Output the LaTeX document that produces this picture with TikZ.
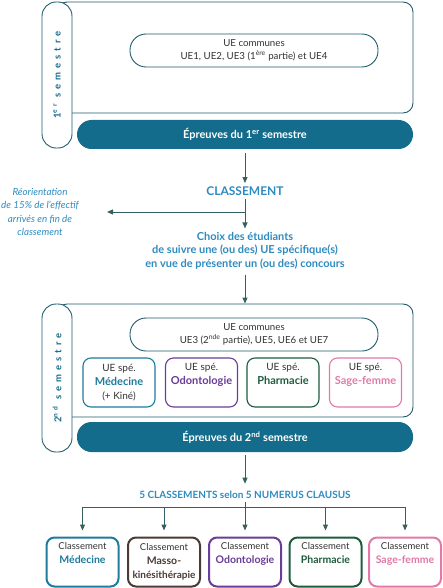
\documentclass[tikz,border=0pt]{standalone}
\usepackage{fontspec}
\setmainfont{Lato}
\newfontfamily\spacedfont[LetterSpace=42]{Lato}
\usetikzlibrary{positioning,arrows.meta}

\definecolor{lineteal}{HTML}{215C6E}
\definecolor{arrteal}{HTML}{34605F}
\definecolor{barteal}{HTML}{146C8C}
\definecolor{txtblue}{HTML}{2E8BC0}
\definecolor{medcol}{HTML}{1E7C9C}
\definecolor{kinecol}{HTML}{4A3B35}
\definecolor{odontocol}{HTML}{6A3D98}
\definecolor{pharmacol}{HTML}{1F5C3E}
\definecolor{sagecol}{HTML}{E17AA8}

\tikzset{
  semframe/.style={draw=lineteal, line width=0.9pt, fill=white, rounded corners=10pt,
    minimum width=356pt, minimum height=#1, inner sep=0pt},
  semtab/.style={draw=lineteal, line width=0.9pt, fill=white, rounded corners=14pt,
    minimum width=30pt, minimum height=#1, inner sep=0pt},
  tablabel/.style={rotate=90, text=barteal, font=\spacedfont\bfseries\fontsize{9.5}{12}\selectfont},
  common/.style={draw=lineteal, line width=0.9pt, fill=white, rounded corners=16pt,
    minimum width=248pt, minimum height=33pt, align=center, inner sep=0pt,
    font=\fontsize{9.7}{12.5}\selectfont, text=black!80},
  exam/.style={fill=barteal, rounded corners=14.5pt, minimum width=336pt, minimum height=#1,
    inner sep=0pt, text=white, font=\bfseries\fontsize{11}{13}\selectfont},
  spebox/.style={draw=#1, line width=1.1pt, fill=white, rounded corners=8pt,
    minimum width=72pt, minimum height=49pt, align=center, inner sep=0pt,
    font=\fontsize{10}{14}\selectfont, text=black!80},
  rankbox/.style={draw=#1, line width=2pt, fill=white, rounded corners=8pt,
    minimum width=72pt, minimum height=49pt, align=center, inner sep=0pt,
    font=\fontsize{9.5}{14}\selectfont, text=black!80},
  bluetext/.style={text=txtblue, align=center, font=\bfseries\fontsize{#1}{13.5}\selectfont},
  arr/.style={draw=arrteal, line width=1pt, -{Triangle[length=6pt,width=5pt]}},
}

\begin{document}
\begin{tikzpicture}[x=1pt,y=-1pt]
\useasboundingbox (0,0) rectangle (443,588);

% 1er semestre
\node[semframe=111pt] (sem1) at (235,57.5) {};
\node[semtab=146pt] (tab1) at (57,75) {};
\node[tablabel] (lab1) at (tab1) {1\textsuperscript{er} semestre};
\node[common] (com1) at (254,50.5) {UE communes\\UE1, UE2, UE3 (1\textsuperscript{ère} partie) et UE4};
\node[exam=29pt] (ep1) at (245,134.5) {Épreuves du 1\textsuperscript{er} semestre};

% classement
\node[bluetext=12] (clas) at (245,191) {CLASSEMENT};
\node[text=txtblue, align=center, font=\itshape\fontsize{9.8}{13.5}\selectfont] (reo) at (40,212)
  {Réorientation\\de 15\% de l'effectif\\arrivés en fin de\\classement};
\node[bluetext=11] (choix) at (245,250.5) {Choix des étudiants\\de suivre une (ou des) UE spécifique(s)\\en vue de présenter un (ou des) concours};
\coordinate (fork) at (245,212);
\coordinate (reoend) at (107,212);

% 2nd semestre
\node[semframe=113pt] (sem2) at (235,360.5) {};
\node[semtab=148pt] (tab2) at (57,378) {};
\node[tablabel] (lab2) at (tab2) {2\textsuperscript{nd} semestre};
\node[common] (com2) at (254,334.5) {UE communes\\UE3 (2\textsuperscript{nde} partie), UE5, UE6 et UE7};
\node[spebox=medcol] (spe1) at (119,382.5) {UE spé.\\\textbf{\color{medcol}\fontsize{11}{14}\selectfont Médecine}\\(+ Kiné)};
\node[spebox=odontocol] (spe2) at (201.5,382.5) {UE spé.\\\textbf{\color{odontocol}\fontsize{11}{14}\selectfont Odontologie}\\\strut};
\node[spebox=pharmacol] (spe3) at (283,382.5) {UE spé.\\\textbf{\color{pharmacol}\fontsize{11}{14}\selectfont Pharmacie}\\\strut};
\node[spebox=sagecol] (spe4) at (365.5,382.5) {UE spé.\\\textbf{\color{sagecol}\fontsize{11}{14}\selectfont Sage-femme}\\\strut};
\node[exam=30pt] (ep2) at (245,437) {Épreuves du 2\textsuperscript{nd} semestre};

% 5 classements
\node[bluetext=10] (clas5) at (245,495) {5 CLASSEMENTS selon 5 NUMERUS CLAUSUS};
\coordinate (bus) at (245,507);
\node[rankbox=medcol] (rk1) at (82.5,562) {Classement\\\textbf{\color{medcol}\fontsize{10.5}{14}\selectfont Médecine}\\\strut};
\node[rankbox=kinecol] (rk2) at (164,562) {Classement\\\textbf{\color{kinecol}\fontsize{10.5}{14}\selectfont Masso-}\\\textbf{\color{kinecol}\fontsize{10}{14}\selectfont kinésithérapie}};
\node[rankbox=odontocol] (rk3) at (245,562) {Classement\\\textbf{\color{odontocol}\fontsize{10.5}{14}\selectfont Odontologie}\\\strut};
\node[rankbox=pharmacol] (rk4) at (325.5,562) {Classement\\\textbf{\color{pharmacol}\fontsize{10.5}{14}\selectfont Pharmacie}\\\strut};
\node[rankbox=sagecol] (rk5) at (405,562) {Classement\\\textbf{\color{sagecol}\fontsize{10.5}{14}\selectfont Sage-femme}\\\strut};

% connectors
\draw[arr, shorten <=4pt] (ep1) -- (clas);
\draw[arr] (clas) -- (choix);
\draw[arr] (fork) -- (reoend);
\draw[arr, shorten <=2pt] (choix) -- (choix |- sem2.north);
\draw[arr, shorten <=3pt, shorten >=4pt] (ep2) -- (clas5);
\draw[draw=arrteal, line width=1pt] (clas5) -- (bus);
\draw[draw=arrteal, line width=1pt] (bus -| rk1) -- (bus -| rk5);
\foreach \n in {1,...,5}
  \draw[arr, shorten >=6pt] (bus -| rk\n) -- (rk\n.north);
\end{tikzpicture}
\end{document}
